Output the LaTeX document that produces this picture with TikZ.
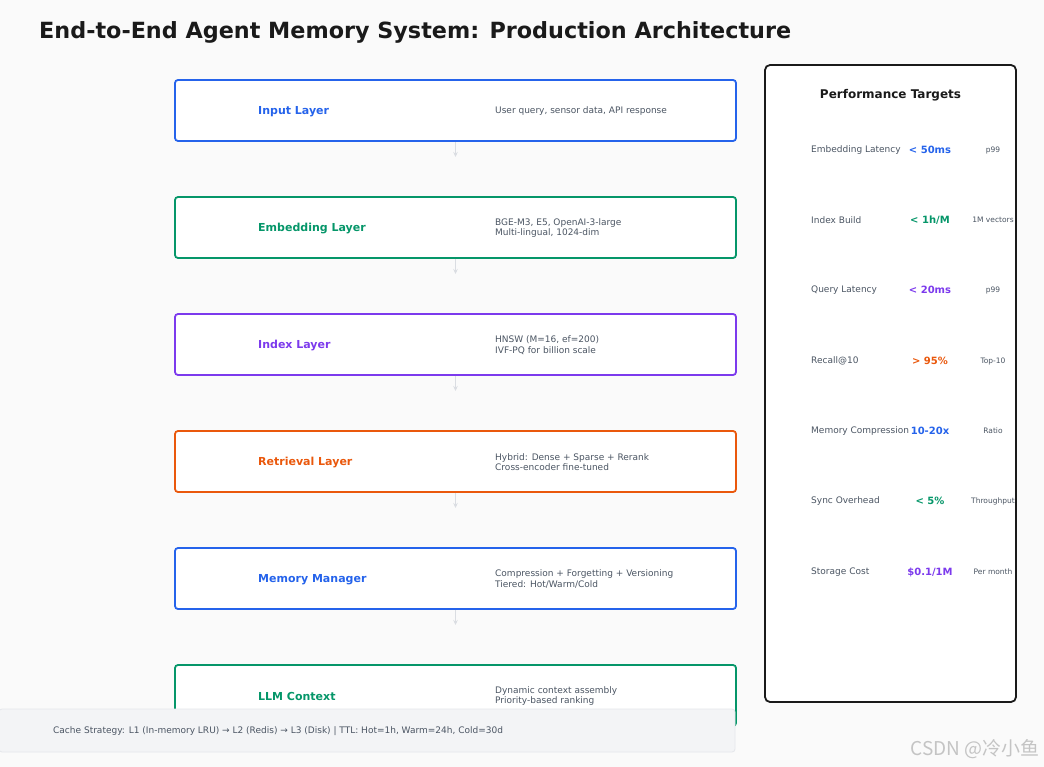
\documentclass[tikz,border=0pt]{standalone}
\usepackage{fontspec}
\setmainfont{DejaVu Sans}
\newfontfamily\cjkfont{Noto Sans CJK SC}
\usetikzlibrary{arrows.meta}

\definecolor{bggray}{HTML}{FAFAFA}
\definecolor{titlegray}{HTML}{1A1A1A}
\definecolor{descgray}{HTML}{4B5563}
\definecolor{arrowgray}{HTML}{DADDE2}
\definecolor{stripfill}{HTML}{F3F4F6}
\definecolor{stripline}{HTML}{E5E7EB}
\definecolor{lblue}{HTML}{2563EB}
\definecolor{lgreen}{HTML}{059669}
\definecolor{lpurple}{HTML}{7C3AED}
\definecolor{lorange}{HTML}{EA580C}
\definecolor{markgray}{HTML}{C4C4C4}

\tikzset{
  layerbox/.style={draw=#1, line width=1.8pt, rounded corners=3pt, fill=white,
    minimum width=561pt, minimum height=61pt, inner sep=0pt},
  layername/.style={anchor=west, inner sep=0pt, yshift=-1.5pt, text=#1,
    font=\fontsize{11}{13}\selectfont\bfseries},
  layerdesc/.style={anchor=west, inner sep=0pt, yshift=-1pt, align=left, text=descgray,
    font=\fontsize{9}{10.5}\selectfont},
  flowarrow/.style={draw=arrowgray, line width=1.3pt,
    -{Stealth[length=5pt,width=4.5pt]}},
  metric/.style={anchor=west, inner sep=0pt, yshift=-1pt, text=descgray,
    font=\fontsize{9}{10.5}\selectfont},
  target/.style={inner sep=0pt, yshift=-1pt, text=#1, font=\fontsize{10}{12}\selectfont\bfseries},
  unit/.style={inner sep=0pt, yshift=-1pt, text=descgray, font=\fontsize{7.5}{9}\selectfont},
}

\begin{document}
\begin{tikzpicture}[x={(1pt,0)}, y={(0,-1pt)}]
  \useasboundingbox (0,0) rectangle (1044,767);
  \fill[bggray] (0,0) rectangle (1044,767);

  % title
  \node[anchor=west, inner sep=0pt, text=titlegray,
        font=\fontsize{22.3}{26}\selectfont\bfseries] (title) at (39,32.5)
        {End-to-End Agent Memory System: Production Architecture};

  % layer stack
  \node[layerbox=lblue]   (input)    at (455.5,110.5) {};
  \node[layerbox=lgreen]  (embed)    at (455.5,227.5) {};
  \node[layerbox=lpurple] (index)    at (455.5,344.5) {};
  \node[layerbox=lorange] (retrieve) at (455.5,461.5) {};
  \node[layerbox=lblue]   (memory)   at (455.5,578.5) {};
  \node[layerbox=lgreen]  (llm)      at (455.5,695.5) {};

  \node[layername=lblue]   (inputname)    at (258,110) {Input Layer};
  \node[layername=lgreen]  (embedname)    at (258,227) {Embedding Layer};
  \node[layername=lpurple] (indexname)    at (258,344) {Index Layer};
  \node[layername=lorange] (retrievename) at (258,461) {Retrieval Layer};
  \node[layername=lblue]   (memoryname)   at (258,578) {Memory Manager};
  \node[layername=lgreen]  (llmname)      at (258,695) {LLM Context};

  \node[layerdesc] (inputdesc)    at (495,110) {User query, sensor data, API response};
  \node[layerdesc] (embeddesc)    at (495,227) {BGE-M3, E5, OpenAI-3-large\\Multi-lingual, 1024-dim};
  \node[layerdesc] (indexdesc)    at (495,344) {HNSW (M=16, ef=200)\\IVF-PQ for billion scale};
  \node[layerdesc] (retrievedesc) at (495,461) {Hybrid: Dense + Sparse + Rerank\\Cross-encoder fine-tuned};
  \node[layerdesc] (memorydesc)   at (495,578) {Compression + Forgetting + Versioning\\Tiered: Hot/Warm/Cold};
  \node[layerdesc] (llmdesc)      at (495,695) {Dynamic context assembly\\Priority-based ranking};

  % short flow arrows under each layer
  \coordinate (inputend)    at (455.5,157);
  \coordinate (embedend)    at (455.5,274);
  \coordinate (indexend)    at (455.5,391);
  \coordinate (retrieveend) at (455.5,508);
  \coordinate (memoryend)   at (455.5,625);
  \draw[flowarrow] (input.south)    -- (inputend);
  \draw[flowarrow] (embed.south)    -- (embedend);
  \draw[flowarrow] (index.south)    -- (indexend);
  \draw[flowarrow] (retrieve.south) -- (retrieveend);
  \draw[flowarrow] (memory.south)   -- (memoryend);

  % performance panel
  \node[draw=titlegray, line width=1.8pt, rounded corners=5pt, fill=white,
        minimum width=251pt, minimum height=637pt, inner sep=0pt] (perf) at (890.5,383.5) {};
  \node[inner sep=0pt, yshift=-1pt, text=titlegray, font=\fontsize{12}{14}\selectfont\bfseries]
        (perftitle) at (890.5,94) {Performance Targets};

  \node[metric] (m1) at (811,149) {Embedding Latency};
  \node[metric] (m2) at (811,219) {Index Build};
  \node[metric] (m3) at (811,289) {Query Latency};
  \node[metric] (m4) at (811,360) {Recall@10};
  \node[metric] (m5) at (811,430) {Memory Compression};
  \node[metric] (m6) at (811,500) {Sync Overhead};
  \node[metric] (m7) at (811,571) {Storage Cost};

  \node[target=lblue]   (t1) at (930,149) {< 50ms};
  \node[target=lgreen]  (t2) at (930,219) {< 1h/M};
  \node[target=lpurple] (t3) at (930,289) {< 20ms};
  \node[target=lorange] (t4) at (930,360) {> 95\%};
  \node[target=lblue]   (t5) at (930,430) {10-20x};
  \node[target=lgreen]  (t6) at (930,500) {< 5\%};
  \node[target=lpurple] (t7) at (930,571) {\$0.1/1M};

  \node[unit] (u1) at (993,149) {p99};
  \node[unit] (u2) at (993,219) {1M vectors};
  \node[unit] (u3) at (993,289) {p99};
  \node[unit] (u4) at (993,360) {Top-10};
  \node[unit] (u5) at (993,430) {Ratio};
  \node[unit] (u6) at (993,500) {Throughput};
  \node[unit] (u7) at (993,571) {Per month};

  % cache strip over the last layer
  \node[draw=stripline, line width=0.8pt, fill=stripfill, rounded corners=3pt,
        minimum width=736pt, minimum height=43pt, inner sep=0pt] (cache) at (367,730.5) {};
  \node[metric] (cachetext) at (53,730)
        {Cache Strategy: L1 (In-memory LRU) → L2 (Redis) → L3 (Disk) | TTL: Hot=1h, Warm=24h, Cold=30d};

  % watermark
  \node[anchor=east, inner sep=0pt, text=markgray, font=\cjkfont\fontsize{19}{21}\selectfont]
        (mark) at (1040,749) {CSDN @冷小鱼};
\end{tikzpicture}
\end{document}
